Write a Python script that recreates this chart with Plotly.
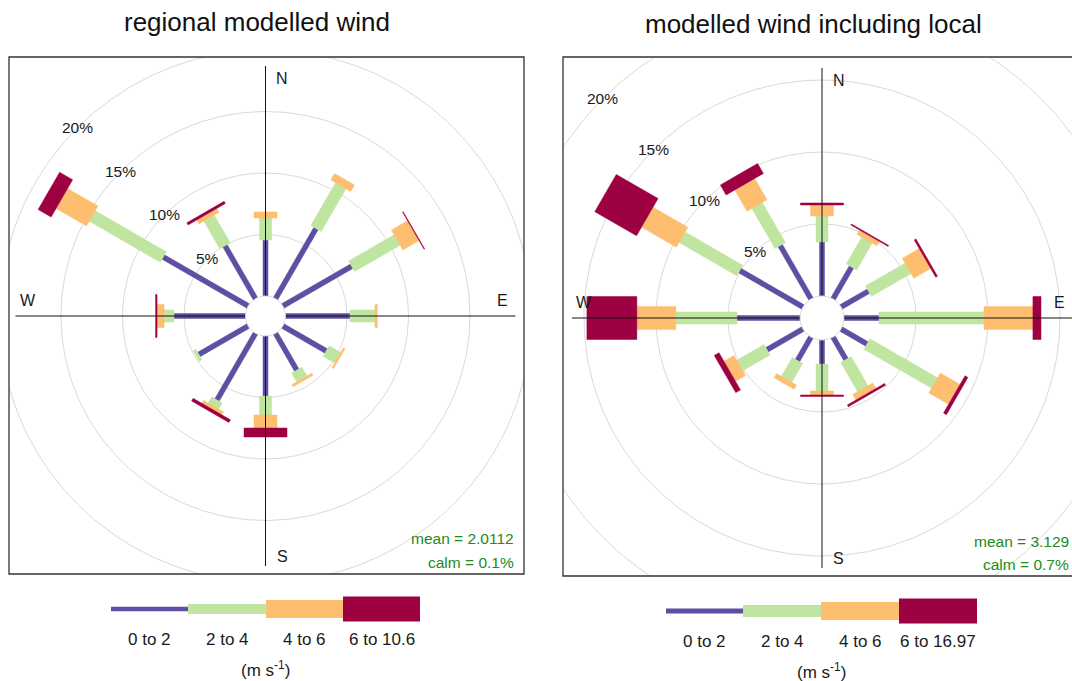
import numpy as np
import plotly.graph_objects as go

W, H = 1072, 681

# ---- data -----------------------------------------------------------------
directions = [0, 30, 60, 90, 120, 150, 180, 210, 240, 270, 300, 330]
compass = ["N", "E", "S", "W"]
pct_rings = [5, 10, 15, 20]

speed_bins_regional = ["0 to 2", "2 to 4", "4 to 6", "6 to 10.6"]
speed_bins_local = ["0 to 2", "2 to 4", "4 to 6", "6 to 16.97"]

# frequency (%) of each speed bin per direction, regional model
regional_0_2 = [4.55, 6.59, 6.46, 5.24, 4.07, 3.46, 4.88, 6.26, 4.63, 5.81, 7.97, 4.96]
regional_2_4 = [1.79, 4.02, 4.27, 2.04, 1.08, 0.82, 1.54, 0.57, 0.25, 0.81, 6.67, 2.60]
regional_4_6 = [0.49, 0.61, 1.52, 0.18, 0.15, 0.20, 1.06, 0.28, 0.00, 0.57, 2.85, 0.37]
regional_6_up = [0.00, 0.00, 0.06, 0.00, 0.00, 0.00, 0.73, 0.25, 0.00, 0.12, 1.22, 0.20]

# frequency (%) of each speed bin per direction, model including local effects
local_0_2 = [3.75, 2.57, 2.20, 2.43, 2.08, 1.81, 1.67, 1.88, 2.88, 4.38, 5.07, 4.28]
local_2_4 = [1.81, 2.15, 3.17, 7.29, 5.42, 2.33, 1.87, 1.51, 2.19, 4.24, 4.62, 3.22]
local_4_6 = [0.76, 0.35, 1.36, 3.40, 1.58, 0.44, 0.28, 0.34, 0.80, 2.71, 2.79, 1.70]
local_6_up = [0.14, 0.08, 0.14, 0.56, 0.23, 0.14, 0.10, 0.00, 0.38, 3.47, 3.35, 0.80]

regional_stats = ["mean = 2.0112", "calm = 0.1%"]
local_stats = ["mean = 3.129", "calm = 0.7%"]

titles = ["regional modelled wind", "modelled wind including local"]

# ---- styles ---------------------------------------------------------------
colors = ["#5E4FA2", "#BFE5A0", "#FDBF6F", "#9E0142"]
paddle_px = [5, 12, 23, 43]          # paddle thickness per speed bin (pixels)
FONT = "Liberation Sans, Arial, sans-serif"
RING = "#D9D9D9"
STAT = "#228B22"

panels = [
    dict(cx=265.5, cy=316, scale=12.3, hole=20, box=(9, 57, 524, 574),
         bins=[regional_0_2, regional_2_4, regional_4_6, regional_6_up],
         labels=speed_bins_regional, stats=regional_stats, stat_x=516, stat_y=(538, 562),
         key_x=[111, 188, 266, 343, 420], key_h=[4.5, 10, 18, 25], key_y=609,
         lab_y=639, unit_y=669, title_x=257, title_y=22),
    dict(cx=822, cy=318, scale=14.4, hole=22, box=(563, 57, 1081, 576),
         bins=[local_0_2, local_2_4, local_4_6, local_6_up],
         labels=speed_bins_local, stats=local_stats, stat_x=1071, stat_y=(541, 564),
         key_x=[666, 743, 821, 899, 977], key_h=[5, 12, 18, 25], key_y=611,
         lab_y=641, unit_y=671, title_x=813, title_y=24),
]


def px(x):
    return x / W


def py(y):
    return 1 - y / H


fig = go.Figure()
layout = dict(width=W, height=H, margin=dict(l=0, r=0, t=0, b=0),
              paper_bgcolor="white", plot_bgcolor="white", showlegend=False)
shapes, annotations = [], []
theta_c = np.linspace(0, 2 * np.pi, 361)


def label(x, y, text, size, color="#1a1a1a", xref="paper", yref="paper", xanchor="center"):
    return dict(x=x, y=y, xref=xref, yref=yref, text=text, showarrow=False,
                xanchor=xanchor, yanchor="middle",
                font=dict(family=FONT, size=size, color=color))


for i, P in enumerate(panels):
    xa = "x" if i == 0 else f"x{i + 1}"
    ya = "y" if i == 0 else f"y{i + 1}"
    s, cx, cy = P["scale"], P["cx"], P["cy"]
    hole = P["hole"] / s
    bx0, by0, bx1, by1 = P["box"]
    dx0, dx1 = max(bx0, 0), min(bx1, W)

    ax_common = dict(visible=False, showgrid=False, zeroline=False, fixedrange=True)
    layout["xaxis" if i == 0 else f"xaxis{i + 1}"] = dict(
        domain=[px(dx0), px(dx1)], range=[(dx0 - cx) / s, (dx1 - cx) / s],
        anchor=ya, **ax_common)
    layout["yaxis" if i == 0 else f"yaxis{i + 1}"] = dict(
        domain=[py(by1), py(by0)], range=[-(by1 - cy) / s, (cy - by0) / s],
        anchor=xa, **ax_common)

    # grid rings
    for p in pct_rings:
        r = hole + p
        fig.add_trace(go.Scatter(x=r * np.sin(theta_c), y=r * np.cos(theta_c), mode="lines",
                                 line=dict(color=RING, width=1), hoverinfo="skip",
                                 xaxis=xa, yaxis=ya))

    # paddles: stacked rectangles per direction
    cum = np.zeros(len(directions))
    for j, vals in enumerate(P["bins"]):
        vals = np.asarray(vals, dtype=float)
        hw = paddle_px[j] / 2 / s
        xs, ys = [], []
        for k, d in enumerate(directions):
            if vals[k] <= 0:
                continue
            th = np.deg2rad(d)
            r0, r1 = hole + cum[k], hole + cum[k] + vals[k]
            ux, uy = np.sin(th), np.cos(th)
            qx, qy = np.cos(th), -np.sin(th)
            pts = [(r0 * ux - hw * qx, r0 * uy - hw * qy), (r1 * ux - hw * qx, r1 * uy - hw * qy),
                   (r1 * ux + hw * qx, r1 * uy + hw * qy), (r0 * ux + hw * qx, r0 * uy + hw * qy),
                   (r0 * ux - hw * qx, r0 * uy - hw * qy)]
            xs += [p_[0] for p_ in pts] + [None]
            ys += [p_[1] for p_ in pts] + [None]
        cum += vals
        fig.add_trace(go.Scatter(x=xs, y=ys, mode="lines", fill="toself", fillcolor=colors[j],
                                 line=dict(color=colors[j], width=0.5), hoverinfo="skip",
                                 xaxis=xa, yaxis=ya))

    # compass cross
    L = 250 / s
    fig.add_trace(go.Scatter(x=[-L, L, None, 0, 0], y=[0, 0, None, -L, L], mode="lines",
                             line=dict(color="#111111", width=1), hoverinfo="skip",
                             xaxis=xa, yaxis=ya))
    # centre hole
    fig.add_trace(go.Scatter(x=hole * np.sin(theta_c), y=hole * np.cos(theta_c), mode="lines",
                             fill="toself", fillcolor="white", line=dict(color=RING, width=1),
                             hoverinfo="skip", xaxis=xa, yaxis=ya))

    # ring labels along the NW diagonal
    for p in pct_rings:
        r = hole + p
        annotations.append(label(-r * np.sin(np.pi / 4), r * np.cos(np.pi / 4), f"{p}%", 15.5,
                                 xref=xa, yref=ya))

    # compass labels
    offs = {"N": (16.5, 237), "E": (237, 16), "S": (16.5, -240), "W": (-238, 16)}
    for c in compass:
        ox, oy = offs[c]
        annotations.append(label(ox / s, oy / s, c, 16, xref=xa, yref=ya))

    # frame
    shapes.append(dict(type="rect", xref="paper", yref="paper",
                       x0=px(bx0), x1=px(bx1), y0=py(by1), y1=py(by0),
                       line=dict(color="#333333", width=1.3), fillcolor="rgba(0,0,0,0)"))

    # mean / calm
    for t, yy in zip(P["stats"], P["stat_y"]):
        annotations.append(label(px(P["stat_x"]), py(yy), t, 15.5, color=STAT, xanchor="right"))

    # title
    annotations.append(label(px(P["title_x"]), py(P["title_y"]), titles[i], 26, color="#111111"))

    # speed key
    kx, kh, ky = P["key_x"], P["key_h"], P["key_y"]
    for j in range(4):
        shapes.append(dict(type="rect", xref="paper", yref="paper",
                           x0=px(kx[j]), x1=px(kx[j + 1]),
                           y0=py(ky + kh[j] / 2), y1=py(ky - kh[j] / 2),
                           line=dict(width=0), fillcolor=colors[j]))
        annotations.append(label(px((kx[j] + kx[j + 1]) / 2), py(P["lab_y"]), P["labels"][j], 17))
    annotations.append(label(px((kx[0] + kx[-1]) / 2), py(P["unit_y"]),
                             "(m s<sup>-1</sup>)", 17))

layout["shapes"] = shapes
layout["annotations"] = annotations
fig.update_layout(**layout)
fig.write_html("out.html")
